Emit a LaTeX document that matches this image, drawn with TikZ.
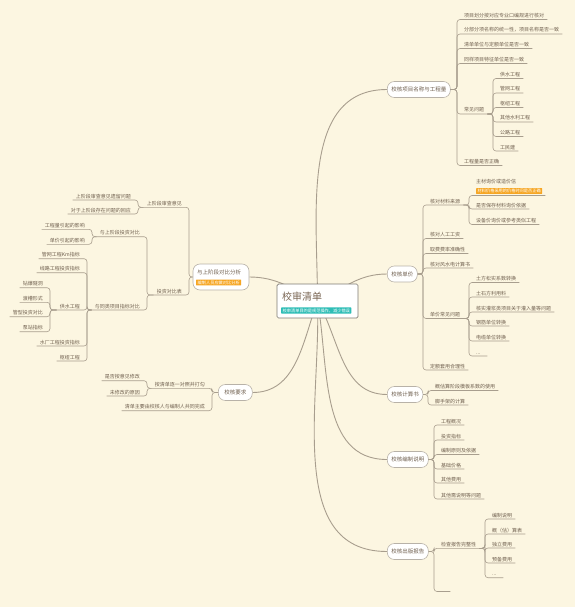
\documentclass[tikz,border=0pt]{standalone}
\usepackage{fontspec}
\setmainfont{Noto Sans CJK SC}
\usepackage{tikz}
\usetikzlibrary{positioning, backgrounds}
\usepackage{xcolor}
\definecolor{paper}{HTML}{FCF6E1}
\definecolor{inktxt}{HTML}{6F5F4E}
\definecolor{titleink}{HTML}{7A6654}
\definecolor{linkline}{HTML}{A89E8E}
\definecolor{boxline}{HTML}{B8B2A8}
\definecolor{centerline}{HTML}{7E7A74}
\definecolor{tagorange}{HTML}{F6A623}
\definecolor{tagteal}{HTML}{2EBDB6}
\tikzset{
  centerbox/.style={rectangle, rounded corners=1.5pt, draw=centerline, fill=white,
                    line width=0.7pt, minimum width=81pt, minimum height=34pt},
  mainbox/.style  ={rectangle, rounded corners=7pt, draw=boxline, fill=white, line width=0.6pt,
                    text=inktxt, font=\fontsize{5.5}{6}\selectfont, minimum height=16pt, inner xsep=4pt},
  sub/.style      ={inner xsep=3pt, inner ysep=1pt, text height=4.2pt, text depth=0.8pt,
                    text=inktxt, font=\fontsize{5}{6}\selectfont},
  rsub/.style     ={sub, anchor=south west},
  lsub/.style     ={sub, anchor=south east},
  tag/.style      ={fill=tagorange, text=white, font=\fontsize{4.2}{5}\selectfont,
                    inner xsep=1.5pt, inner ysep=1pt, rounded corners=0.5pt},
  link/.style     ={draw=linkline, line width=0.6pt, rounded corners=3pt},
  curve/.style    ={draw=linkline, line width=0.9pt},
  rbranch/.style  ={to path={-- ([xshift=-4pt]\tikztotarget.south west |- \tikztostart) |- (\tikztotarget.south east)}},
  lbranch/.style  ={to path={-- ([xshift=4pt]\tikztotarget.south east |- \tikztostart) |- (\tikztotarget.south west)}},
}
\begin{document}
\begin{tikzpicture}[x=1pt, y=-1pt]
    \useasboundingbox (0,0) rectangle (575,607);
    \node[centerbox] (c) at (317.5,301) {};
    \node[anchor=west, inner sep=0pt, text=titleink, font=\fontsize{10}{12}\selectfont] (ctitle) at (282,297) {校审清单};
    \node[tag, fill=tagteal, anchor=west] (csub) at (281,310.5) {校审清单目的是规范操作，减少错误};
    % right side
    \node[mainbox, anchor=west] (m1) at (387,89.5) {校核项目名称与工程量};
    \node[rsub] (r11) at (461,19.5) {项目划分按对应专业口编规进行核对};
    \node[rsub] (r12) at (461,34) {分部分项名称的统一性，项目名称是否一致};
    \node[rsub] (r13) at (461,48.5) {清单单位与定额单位是否一致};
    \node[rsub] (r14) at (461,63.5) {同样项目特征单位是否一致};
    \node[rsub] (r15) at (461,114) {常见问题};
    \node[rsub] (r16) at (461,165.5) {工程量是否正确};
    \node[rsub] (r151) at (497,78.5) {供水工程};
    \node[rsub] (r152) at (497,93) {管网工程};
    \node[rsub] (r153) at (497,107.5) {枢纽工程};
    \node[rsub] (r154) at (497,122) {其他水利工程};
    \node[rsub] (r155) at (497,136.5) {公路工程};
    \node[rsub] (r156) at (497,151) {工民建};
    \node[mainbox, anchor=west] (m2) at (387,274) {校核单价};
    \node[rsub] (r21) at (427,205) {核对材料来源};
    \node[rsub] (r22) at (427,238.5) {核对人工工资};
    \node[rsub] (r23) at (427,253.5) {取费费率准确性};
    \node[rsub] (r24) at (427,268) {核对风水电计算书};
    \node[rsub] (r25) at (427,318.5) {单价常见问题};
    \node[rsub] (r26) at (427,370) {定额套用合理性};
    \node[rsub, text width=66pt, text depth=10.5pt] (r211) at (473,195.5) {主材询价或造价信};
    \node[tag, anchor=west] (r211tag) at (476,191) {材料价格采用的价格时间是否正确};
    \node[rsub] (r212) at (473,209) {是否保存材料询价依据};
    \node[rsub] (r213) at (473,224.5) {设备价询价或参考类似工程};
    \node[rsub] (r251) at (473,282.5) {土方松实系数转换};
    \node[rsub] (r252) at (473,297) {土石方利用料};
    \node[rsub] (r253) at (473,312) {核实灌浆类项目关于灌入量等问题};
    \node[rsub] (r254) at (473,326) {钢筋单位转换};
    \node[rsub] (r255) at (473,341) {电缆单位转换};
    \node[rsub, text width=8pt] (r256) at (473,356) {...};
    \node[mainbox, anchor=west] (m3) at (387,394.5) {校核计算书};
    \node[rsub] (r31) at (432,390.5) {概估算阶段模板系数的使用};
    \node[rsub] (r32) at (432,405) {脚手架的计算};
    \node[mainbox, anchor=west] (m4) at (387,459.5) {校核编制说明};
    \node[rsub] (r41) at (438,425) {工程概况};
    \node[rsub] (r42) at (438,440) {投资指标};
    \node[rsub] (r43) at (438,454.5) {编制原则及依据};
    \node[rsub] (r44) at (438,469) {基础价格};
    \node[rsub] (r45) at (438,483) {其他费用};
    \node[rsub] (r46) at (438,499) {其他需说明等问题};
    \node[mainbox, anchor=west] (m5) at (387,551.5) {校核出版报告};
    \node[rsub] (r51) at (438,548.3) {检查报告完整性};
    \node[rsub, minimum width=12pt] (r52) at (438,591.5) {};
    \node[rsub] (r511) at (489,519) {编制说明};
    \node[rsub] (r512) at (489,534) {概（估）算表};
    \node[rsub] (r513) at (489,548) {独立费用};
    \node[rsub] (r514) at (489,563) {预备费用};
    \node[rsub, text width=8pt] (r515) at (489,577.7) {...};
    % left side
    \node[mainbox, minimum width=56pt, minimum height=26pt] (m6) at (221,277) {};
    \node[anchor=west, inner sep=0pt, text=inktxt, font=\fontsize{5.5}{6}\selectfont] (m6t) at (197,272.5) {与上阶段对比分析};
    \node[tag, anchor=west] (m6tag) at (196,282.5) {编制人员应做对比分析};
    \node[lsub] (l1) at (185,207.3) {上阶段审查意见};
    \node[lsub] (l2) at (185,295) {投资对比表};
    \node[lsub] (l11) at (134,200) {上阶段审查意见遗留问题};
    \node[lsub] (l12) at (134,214) {对于上阶段存在问题的回应};
    \node[lsub] (l21) at (143,236.7) {与上阶段投资对比};
    \node[lsub] (l22) at (143,310) {与同类项目指标对比};
    \node[lsub] (l211) at (88,229.3) {工程量引起的影响};
    \node[lsub] (l212) at (88,244.3) {单价引起的影响};
    \node[lsub] (l221) at (83,258.7) {管网工程Km指标};
    \node[lsub] (l222) at (83,272.7) {线路工程投资指标};
    \node[lsub] (l223) at (83,310) {供水工程};
    \node[lsub] (l224) at (83,346) {水厂工程投资指标};
    \node[lsub] (l225) at (83,361) {枢纽工程};
    \node[lsub] (l2231) at (46,287.7) {钻爆隧洞};
    \node[lsub] (l2232) at (46,302.3) {渡槽形式};
    \node[lsub] (l2233) at (46,316.7) {管型投资对比};
    \node[lsub] (l2234) at (46,331.7) {泵站指标};
    \node[mainbox, anchor=west, minimum width=34pt] (m7) at (218,392.5) {校核要求};
    \node[lsub] (l31) at (208,388.3) {按清单逐一对照并打勾};
    \node[lsub] (l32) at (208,410.7) {清单主要由校核人与编制人共同完成};
    \node[lsub] (l311) at (143,380.7) {是否按意见修改};
    \node[lsub] (l312) at (143,396) {未修改的原因};
    % branches
    \draw[link] (m1.east) to[rbranch] (r11);
    \draw[link] (m1.east) to[rbranch] (r12);
    \draw[link] (m1.east) to[rbranch] (r13);
    \draw[link] (m1.east) to[rbranch] (r14);
    \draw[link] (m1.east) to[rbranch] (r15);
    \draw[link] (m1.east) to[rbranch] (r16);
    \draw[link] (r15.south east) to[rbranch] (r151);
    \draw[link] (r15.south east) to[rbranch] (r152);
    \draw[link] (r15.south east) to[rbranch] (r153);
    \draw[link] (r15.south east) to[rbranch] (r154);
    \draw[link] (r15.south east) to[rbranch] (r155);
    \draw[link] (r15.south east) to[rbranch] (r156);
    \draw[link] (m2.east) to[rbranch] (r21);
    \draw[link] (m2.east) to[rbranch] (r22);
    \draw[link] (m2.east) to[rbranch] (r23);
    \draw[link] (m2.east) to[rbranch] (r24);
    \draw[link] (m2.east) to[rbranch] (r25);
    \draw[link] (m2.east) to[rbranch] (r26);
    \draw[link] (r21.south east) to[rbranch] (r211);
    \draw[link] (r21.south east) to[rbranch] (r212);
    \draw[link] (r21.south east) to[rbranch] (r213);
    \draw[link] (r25.south east) to[rbranch] (r251);
    \draw[link] (r25.south east) to[rbranch] (r252);
    \draw[link] (r25.south east) to[rbranch] (r253);
    \draw[link] (r25.south east) to[rbranch] (r254);
    \draw[link] (r25.south east) to[rbranch] (r255);
    \draw[link] (r25.south east) to[rbranch] (r256);
    \draw[link] (m3.east) to[rbranch] (r31);
    \draw[link] (m3.east) to[rbranch] (r32);
    \draw[link] (m4.east) to[rbranch] (r41);
    \draw[link] (m4.east) to[rbranch] (r42);
    \draw[link] (m4.east) to[rbranch] (r43);
    \draw[link] (m4.east) to[rbranch] (r44);
    \draw[link] (m4.east) to[rbranch] (r45);
    \draw[link] (m4.east) to[rbranch] (r46);
    \draw[link] (m5.east) to[rbranch] (r51);
    \draw[link] (m5.east) to[rbranch] (r52);
    \draw[link] (r51.south east) to[rbranch] (r511);
    \draw[link] (r51.south east) to[rbranch] (r512);
    \draw[link] (r51.south east) to[rbranch] (r513);
    \draw[link] (r51.south east) to[rbranch] (r514);
    \draw[link] (r51.south east) to[rbranch] (r515);
    \draw[link] (m6.west) to[lbranch] (l1);
    \draw[link] (m6.west) to[lbranch] (l2);
    \draw[link] (l1.south west) to[lbranch] (l11);
    \draw[link] (l1.south west) to[lbranch] (l12);
    \draw[link] (l2.south west) to[lbranch] (l21);
    \draw[link] (l2.south west) to[lbranch] (l22);
    \draw[link] (l21.south west) to[lbranch] (l211);
    \draw[link] (l21.south west) to[lbranch] (l212);
    \draw[link] (l22.south west) to[lbranch] (l221);
    \draw[link] (l22.south west) to[lbranch] (l222);
    \draw[link] (l22.south west) to[lbranch] (l223);
    \draw[link] (l22.south west) to[lbranch] (l224);
    \draw[link] (l22.south west) to[lbranch] (l225);
    \draw[link] (l223.south west) to[lbranch] (l2231);
    \draw[link] (l223.south west) to[lbranch] (l2232);
    \draw[link] (l223.south west) to[lbranch] (l2233);
    \draw[link] (l223.south west) to[lbranch] (l2234);
    \draw[link] (m7.west) to[lbranch] (l31);
    \draw[link] (m7.west) to[lbranch] (l32);
    \draw[link] (l31.south west) to[lbranch] (l311);
    \draw[link] (l31.south west) to[lbranch] (l312);
    % main curves
    \begin{scope}[on background layer]
      \fill[paper] (0,0) rectangle (575,607);
      \draw[curve] (c.center) to[out=90, in=180] (m1.west);
      \draw[curve] (c.center) to[out=25, in=180] (m2.west);
      \draw[curve] (c.center) to[out=-60, in=180] (m3.west);
      \draw[curve] (c.center) to[out=-80, in=180] (m4.west);
      \draw[curve] (c.center) to[out=-88, in=180] (m5.west);
      \draw[curve] (c.center) to[out=155, in=0] (m6.east);
      \draw[curve] (c.center) to[out=-110, in=0] (m7.east);
    \end{scope}
\end{tikzpicture}
\end{document}
